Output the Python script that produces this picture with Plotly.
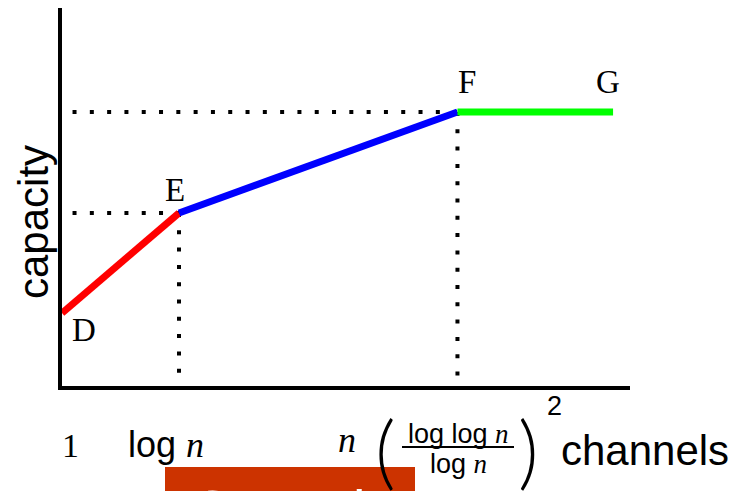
import plotly.graph_objects as go

# Piecewise capacity curve: D -> E -> F -> G
point_names = ["D", "E", "F", "G"]
channels = [0.0, 1.0, 3.38, 4.71]        # channel count (scaled axis units)
capacity = [0.73, 1.73, 2.74, 2.74]      # capacity (scaled axis units)
segment_colors = ["#ff0000", "#0000ff", "#00ff00"]

# Tick-like labels along the channel axis
bottom_labels = ["1", "log n", "n (log log n / log n)^2", "channels"]

W, H = 734, 491
ML, MR, MT, MB = 62, 104, 8, 105
PW, PH = W - ML - MR, H - MT - MB


def px(xp):
    return (xp - ML) / PW


def py(yp):
    return (H - MB - yp) / PH


SERIF = "Liberation Serif, Times New Roman, serif"
SANS = "Liberation Sans, Arial, Helvetica, sans-serif"
DOT = "4px,13.3px"

fig = go.Figure()

# dotted guide lines from E and F to both axes
for i in (1, 2):
    fig.add_trace(go.Scatter(
        x=[0.09, channels[i]], y=[capacity[i], capacity[i]], mode="lines",
        line=dict(color="black", width=4, dash=DOT), hoverinfo="skip"))
    fig.add_trace(go.Scatter(
        x=[channels[i], channels[i]], y=[capacity[i], 0.04], mode="lines",
        line=dict(color="black", width=4, dash=DOT), hoverinfo="skip"))

# coloured segments
for i, col in enumerate(segment_colors):
    fig.add_trace(go.Scatter(
        x=channels[i:i + 2], y=capacity[i:i + 2], mode="lines",
        line=dict(color=col, width=7), cliponaxis=False, hoverinfo="skip"))

# point letters
offsets = {"D": (22, -17), "E": (-4, 23), "F": (10, 30), "G": (-5, 30)}
for name, xv, yv in zip(point_names, channels, capacity):
    dx, dy = offsets[name]
    fig.add_annotation(x=xv, y=yv, xref="x", yref="y", text=name,
                       showarrow=False, xshift=dx, yshift=dy,
                       font=dict(family=SERIF, size=33, color="black"))

ann = []


def label(xp, yp, text, size, family=SANS, weight=None, **kw):
    font = dict(family=family, size=size, color="black")
    if weight:
        font["weight"] = weight
    ann.append(dict(x=px(xp), y=py(yp), xref="paper", yref="paper",
                    xanchor="center", yanchor="middle",
                    text=text, showarrow=False, font=font, **kw))


nser = "<span style=\"font-family:'Liberation Serif'\"><i>n</i></span>"

label(33, 222, "capacity", 42, textangle=-90)
label(70, 446, bottom_labels[0], 34, family=SERIF)
label(166, 444, "log " + nser, 36)
label(347, 440, "<i>n</i>", 36, family=SERIF)
label(385, 449, "(", 80, family="Lato", weight=300)
label(458, 434, "log log " + nser, 27)
label(458, 464, "log " + nser, 27)
label(528, 449, ")", 80, family="Lato", weight=300)
label(554, 406, "2", 27)
label(645, 450, bottom_labels[3], 42)

# box at the bottom edge, only its top strip is visible
ann.append(dict(x=px(190), y=py(477), xref="paper", yref="paper",
                xanchor="left", yanchor="top", borderpad=0,
                text="Consult", showarrow=False,
                font=dict(family=SANS, size=56, color="white")))

fig.update_layout(annotations=list(fig.layout.annotations) + ann)

shapes = [
    dict(type="line", xref="paper", yref="paper",
         x0=px(402), x1=px(514), y0=py(447), y1=py(447),
         line=dict(color="black", width=2)),
    dict(type="rect", xref="paper", yref="paper", layer="below",
         x0=px(165), x1=px(415), y0=py(467), y1=py(520),
         line=dict(width=0), fillcolor="#cc3300"),
]

fig.update_layout(
    width=W, height=H,
    margin=dict(l=ML, r=MR, t=MT, b=MB, pad=0),
    paper_bgcolor="white", plot_bgcolor="white",
    showlegend=False,
    shapes=shapes,
    xaxis=dict(range=[0, PW / 117], showline=True, linewidth=4,
               linecolor="black", showgrid=False, zeroline=False,
               showticklabels=False, ticks=""),
    yaxis=dict(range=[0, PH / 100], showline=True, linewidth=4,
               linecolor="black", showgrid=False, zeroline=False,
               showticklabels=False, ticks=""),
)

fig.write_html("out.html")
